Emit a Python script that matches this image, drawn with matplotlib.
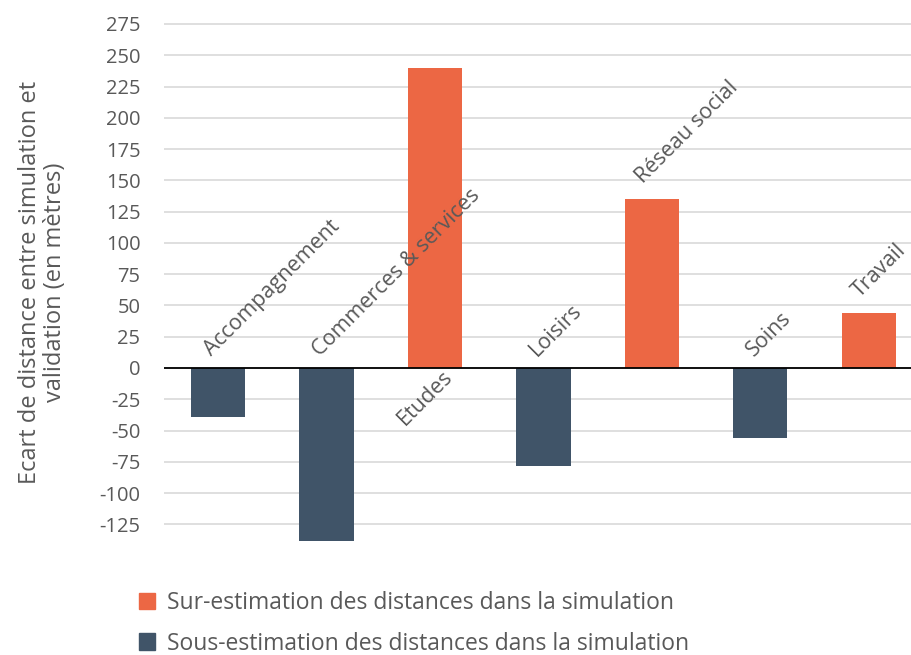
import matplotlib
matplotlib.use("Agg")
import matplotlib.pyplot as plt
from matplotlib.patches import Patch

plt.rcParams["font.family"] = ["Open Sans", "DejaVu Sans"]
plt.rcParams["axes.unicode_minus"] = False

# données
categories = ["Accompagnement", "Commerces & services", "Etudes", "Loisirs",
              "Réseau social", "Soins", "Travail"]
ecarts = [-39, -138, 240, -78, 135, -56, 44]
legend_labels = ["Sur-estimation des distances dans la simulation",
                 "Sous-estimation des distances dans la simulation"]
y_ticks = list(range(-125, 276, 25))

ORANGE = "#EC6744"
BLEU = "#405468"
GRIS_TEXTE = "#595959"

fig = plt.figure(figsize=(9.12, 6.55), dpi=100)
ax = fig.add_axes([0.1798, 0.1708, 0.8202, 0.7964])

x = list(range(len(categories)))
couleurs = [ORANGE if v >= 0 else BLEU for v in ecarts]
ax.bar(x, ecarts, width=0.5, color=couleurs, zorder=3)

ax.set_xlim(-0.5, 6.4)
ax.set_ylim(-140, 277)
ax.set_yticks(y_ticks)
ax.yaxis.grid(True, color="#D9D9D9", linewidth=1.2, zorder=0)
ax.axhline(0, color="black", linewidth=1.3, zorder=4)
ax.set_xticks([])
for s in ax.spines.values():
    s.set_visible(False)
ax.tick_params(axis="y", length=0, pad=17, labelsize=14.5, labelcolor=GRIS_TEXTE)
ax.set_ylabel("Ecart de distance entre simulation et\nvalidation (en mètres)",
              fontsize=17, color=GRIS_TEXTE, labelpad=23, linespacing=1.1)

# étiquettes des catégories, inclinées à 45°
for xi, cat, v in zip(x, categories, ecarts):
    if v < 0:
        pos = (xi - 0.06, 9)
    elif v > 200:
        # pas la place au-dessus : sous l'axe
        pos = (xi - 0.28, -46)
    else:
        pos = (xi - 0.08, v + 12)
    ax.text(pos[0], pos[1], cat, rotation=45, rotation_mode="anchor",
            ha="left", va="baseline", fontsize=15.5, color=GRIS_TEXTE, zorder=5)

handles = [Patch(color=ORANGE), Patch(color=BLEU)]
fig.legend(handles, legend_labels, loc="upper left", bbox_to_anchor=(0.152, 0.097),
           frameon=False, fontsize=16.5, handlelength=0.7, handleheight=0.7,
           handletextpad=0.55, labelspacing=0.7, labelcolor=GRIS_TEXTE,
           borderaxespad=0, borderpad=0)

fig.savefig("out.png", dpi=100)
